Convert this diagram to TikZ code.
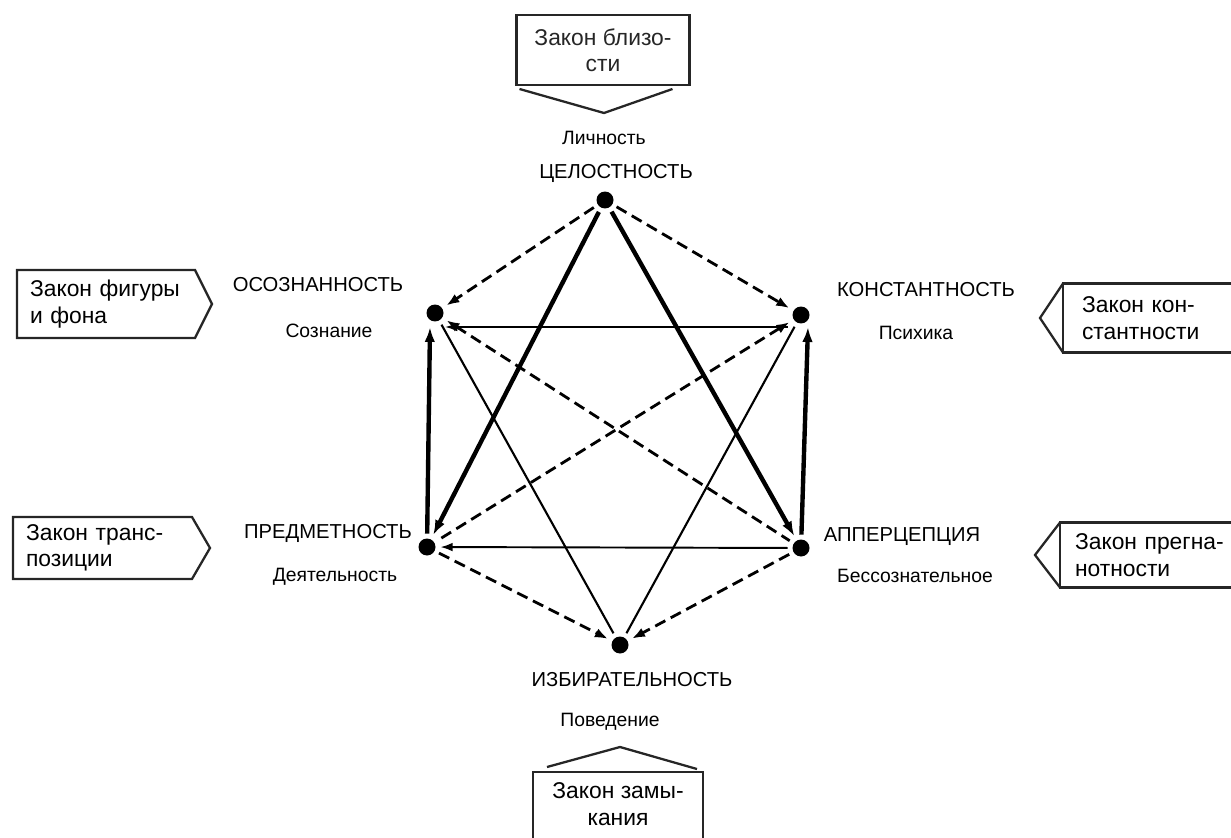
\documentclass[tikz,border=0pt]{standalone}
\usepackage{fontspec}
\setmainfont{Liberation Sans}
\usetikzlibrary{arrows.meta,positioning,calc}
\newcommand{\lawfont}{\fontsize{13}{15}\selectfont}
\tikzset{
  dot/.style={circle, fill=black, inner sep=0pt, minimum size=0.34cm, outer sep=2.8pt},
  caplbl/.style={font=\fontsize{11.5}{13}\selectfont, inner sep=0pt},
  sublbl/.style={font=\fontsize{11}{13}\selectfont, inner sep=0pt},
  law/.style={font=\lawfont, align=left, inner ysep=0pt, outer sep=0pt},
  lawline/.style={line width=1.3pt, black!85, line join=miter},
  solid arr/.style={-{Latex[length=7pt, width=5pt]}, line width=1.1pt},
  heavy arr/.style={-{Latex[length=8.5pt, width=6pt]}, line width=2.5pt},
  dash arr/.style={-{Latex[length=7.5pt, width=5.5pt]}, line width=1.6pt, dash pattern=on 6.5pt off 3.5pt},
  plain line/.style={line width=1.2pt},
}

\begin{document}
\begin{tikzpicture}[x=0.02cm, y=-0.02cm]
\useasboundingbox (0,0) rectangle (1231,838);
\node[dot] (t) at (605,200) {};
\node[dot] (ul) at (435,313) {};
\node[dot] (ur) at (801,315) {};
\node[dot] (ll) at (427,547) {};
\node[dot] (lr) at (801,548) {};
\node[dot] (b) at (620,645) {};
\node[sublbl] (lich) at (604,138) {Личность};
\node[caplbl] (celo) at (616,173) {ЦЕЛОСТНОСТЬ};
\node[caplbl] (osoz) at (318,285) {ОСОЗНАННОСТЬ};
\node[sublbl] (soz) at (329,331) {Сознание};
\node[caplbl] (kons) at (926,290) {КОНСТАНТНОСТЬ};
\node[sublbl] (psih) at (916,333) {Психика};
\node[caplbl] (pred) at (328,533) {ПРЕДМЕТНОСТЬ};
\node[sublbl] (deyat) at (335,577) {Деятельность};
\node[caplbl] (apper) at (902,537) {АППЕРЦЕПЦИЯ};
\node[sublbl] (bessoz) at (915,576) {Бессознательное};
\node[caplbl] (izbir) at (632,680) {ИЗБИРАТЕЛЬНОСТЬ};
\node[sublbl] (poved) at (610,722) {Поведение};
\draw[dash arr] (t) -- (ul);
\draw[dash arr] (t) -- (ur);
\draw[heavy arr] (t) -- (ll);
\draw[heavy arr] (t) -- (lr);
\draw[heavy arr] (ll) -- ([shift={(-5,14)}]ul.center);
\draw[heavy arr] (lr) -- ([shift={(7,12)}]ur.center);
\draw[solid arr, {Latex[length=7pt, width=5pt]}-] ([shift={(10,14)}]ul.center) -- ([shift={(-13,12)}]ur.center);
\draw[solid arr, {Latex[length=7pt, width=5pt]}-] (ll) -- (lr);
\draw[dash arr, {Latex[length=7.5pt, width=5.5pt]}-] (ul) -- (lr);
\draw[dash arr, {Latex[length=7.5pt, width=5.5pt]}-] (ur) -- (ll);
\draw[plain line] (ul) -- (b);
\draw[plain line] (ur) -- (b);
\draw[dash arr] (ll) -- (b);
\draw[dash arr] (lr) -- (b);
\node[law, align=center, draw, lawline, minimum width=3.46cm, minimum height=1.4cm] (zblz) at (603,50) {Закон близо-\\сти};
\coordinate (zblzp) at (604,113);
\draw[lawline] ([shift={(3,4)}]zblz.south west) -- (zblzp) -- ([shift={(-17,4)}]zblz.south east);
\node[law, text width=3.04cm, inner xsep=0.26cm, minimum height=1.36cm] (zfig) at (106,304) {Закон фигуры\\и фона};
\coordinate (zfigp) at (212,304);
\draw[lawline] (zfig.north east) -- (zfig.north west) -- (zfig.south west) -- (zfig.south east) -- (zfigp) -- cycle;
\node[law, text width=3.06cm, inner xsep=0.26cm, minimum height=1.24cm] (zpoz) at (102.5,548) {Закон транс-\\позиции};
\coordinate (zpozp) at (210,548);
\draw[lawline] (zpoz.north east) -- (zpoz.north west) -- (zpoz.south west) -- (zpoz.south east) -- (zpozp) -- cycle;
\node[law, anchor=west, text width=3cm, inner xsep=0.38cm, minimum height=1.38cm] (zkon) at (1063,318) {Закон кон-\\стантности};
\coordinate (zkonp) at (1040,318);
\draw[lawline] (zkon.north east) -- (zkon.north west) -- (zkon.south west) -- (zkon.south east);
\draw[lawline] (zkon.north west) -- (zkonp) -- (zkon.south west);
\node[law, anchor=west, text width=3.2cm, inner xsep=0.3cm, minimum height=1.3cm] (zpreg) at (1060,555) {Закон прегна-\\нотности};
\coordinate (zpregp) at (1035,555);
\draw[lawline] (zpreg.north east) -- (zpreg.north west) -- (zpreg.south west) -- (zpreg.south east);
\draw[lawline] (zpreg.north west) -- (zpregp) -- (zpreg.south west);
\node[law, align=center, minimum width=3.4cm, minimum height=1.28cm] (zzam) at (618,804) {Закон замы-\\кания};
\coordinate (zzamp) at (620,747);
\draw[lawline] ([shift={(0,6)}]zzam.south west) -- (zzam.north west) -- (zzam.north east) -- ([shift={(0,6)}]zzam.south east);
\draw[lawline] ([shift={(14,-5)}]zzam.north west) -- (zzamp) -- ([shift={(-6,-3)}]zzam.north east);
\end{tikzpicture}
\end{document}
